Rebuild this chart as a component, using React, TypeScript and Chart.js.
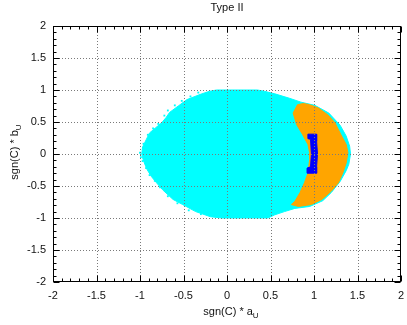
import React, { useEffect, useRef } from "react";
import { Chart, registerables } from "chart.js";

Chart.register(...registerables);

const TITLE = "Type II";
const X_LABEL = "sgn(C) * a";
const Y_LABEL = "sgn(C) * b";
const LABEL_SUB = "U";

const X_TICKS = [-2, -1.5, -1, -0.5, 0, 0.5, 1, 1.5, 2];
const Y_TICKS = [-2, -1.5, -1, -0.5, 0, 0.5, 1, 1.5, 2];

// cyan region outline
const CYAN_X = [
  -0.98, -0.97, -0.93, -0.89, -0.82, -0.75, -0.7, -0.66, -0.56, -0.46, -0.31, -0.2, -0.12,
  0.35, 0.43, 0.55, 0.72, 0.85, 1.01, 1.17, 1.3, 1.37, 1.41, 1.42, 1.4, 1.37, 1.3, 1.2, 1.1, 0.95, 0.78,
  0.66, 0.55, 0.47, -0.06, -0.19, -0.36, -0.51, -0.62, -0.74, -0.81, -0.87, -0.92, -0.95, -0.97,
];
const CYAN_Y = [
  0.0, 0.11, 0.22, 0.33, 0.41, 0.49, 0.57, 0.65, 0.75, 0.85, 0.93, 0.98, 1.0,
  1.0, 0.98, 0.94, 0.87, 0.81, 0.76, 0.64, 0.45, 0.28, 0.12, 0.0, -0.16, -0.26, -0.43, -0.6, -0.73, -0.82, -0.85,
  -0.9, -0.95, -1.0, -1.0, -0.98, -0.9, -0.79, -0.71, -0.56, -0.45, -0.35, -0.24, -0.14, -0.06,
];

// scattered cyan specks at the ragged left edge
const SPECK_X = [-1.0, -0.99, -0.96, -0.91, -0.85, -0.79, -0.72, -0.68, -0.6, -0.52, -0.42, -0.33,
  -0.97, -0.93, -0.89, -0.83, -0.77, -0.68, -0.57, -0.44, -0.3];
const SPECK_Y = [0.02, -0.05, 0.16, 0.3, 0.4, 0.47, 0.6, 0.68, 0.76, 0.83, 0.9, 0.96,
  -0.11, -0.22, -0.33, -0.42, -0.52, -0.66, -0.77, -0.88, -0.94];

// orange region outline
const ORANGE_X = [
  0.76, 0.81, 0.88, 0.95, 1.05, 1.16, 1.24, 1.31, 1.37, 1.39, 1.37, 1.33, 1.28, 1.2, 1.09, 0.97, 0.82,
  0.74, 0.78, 0.84, 0.89, 0.93, 0.95, 0.95, 0.93, 0.87, 0.8,
];
const ORANGE_Y = [
  0.64, 0.77, 0.79, 0.77, 0.72, 0.61, 0.49, 0.3, 0.15, 0.02, -0.14, -0.3, -0.45, -0.58, -0.71, -0.79, -0.82,
  -0.79, -0.74, -0.6, -0.45, -0.3, -0.09, 0.02, 0.15, 0.3, 0.46,
];

// blue region outline
const BLUE_X = [0.93, 1.03, 1.03, 1.04, 1.03, 1.03, 0.92, 0.92, 0.96, 0.97, 0.96, 0.93];
const BLUE_Y = [0.31, 0.31, 0.2, 0.0, -0.2, -0.3, -0.3, -0.22, -0.2, 0.0, 0.23, 0.24];

const CYAN = "#00ffff";
const ORANGE = "#ffa500";
const BLUE = "#0000ff";
const FONT = '"Liberation Sans", Arial, sans-serif';

const pts = (xs: number[], ys: number[], close: boolean) => {
  const p = xs.map((x, i) => ({ x, y: ys[i] }));
  if (close) p.push({ x: xs[0], y: ys[0] });
  return p;
};

const framePlugin = {
  id: "gnuFrame",
  afterDatasetsDraw(chart: any) {
    const { ctx, chartArea: a, scales } = chart;
    const xs = scales.x;
    const ys = scales.y;
    ctx.save();
    // dotted grid
    ctx.strokeStyle = "#7a7a7a";
    ctx.lineWidth = 1;
    ctx.setLineDash([1, 2]);
    X_TICKS.forEach((v, i) => {
      if (i === 0 || i === X_TICKS.length - 1) return;
      const px = Math.round(xs.getPixelForValue(v)) + 0.5;
      ctx.beginPath();
      ctx.moveTo(px, a.top);
      ctx.lineTo(px, a.bottom);
      ctx.stroke();
    });
    Y_TICKS.forEach((v, i) => {
      if (i === 0 || i === Y_TICKS.length - 1) return;
      const py = Math.round(ys.getPixelForValue(v)) + 0.5;
      ctx.beginPath();
      ctx.moveTo(a.left, py);
      ctx.lineTo(a.right, py);
      ctx.stroke();
    });
    ctx.setLineDash([]);
    // border
    ctx.strokeStyle = "#000";
    const L = Math.round(a.left) + 0.5;
    const R = Math.round(a.right) - 0.5;
    const T = Math.round(a.top) + 0.5;
    const B = Math.round(a.bottom) - 0.5;
    ctx.strokeRect(L, T, R - L, B - T);
    // ticks (major + minor) on all sides
    const drawTicksX = (vals: number[], len: number) => {
      vals.forEach((v) => {
        const px = Math.round(xs.getPixelForValue(v)) + 0.5;
        ctx.beginPath();
        ctx.moveTo(px, B);
        ctx.lineTo(px, B - len);
        ctx.moveTo(px, T);
        ctx.lineTo(px, T + len);
        ctx.stroke();
      });
    };
    const drawTicksY = (vals: number[], len: number) => {
      vals.forEach((v) => {
        const py = Math.round(ys.getPixelForValue(v)) + 0.5;
        ctx.beginPath();
        ctx.moveTo(L, py);
        ctx.lineTo(L + len, py);
        ctx.moveTo(R, py);
        ctx.lineTo(R - len, py);
        ctx.stroke();
      });
    };
    const minors = (ticks: number[]) => {
      const out: number[] = [];
      for (let i = 0; i < ticks.length - 1; i++) {
        const step = (ticks[i + 1] - ticks[i]) / 5;
        for (let k = 1; k < 5; k++) out.push(ticks[i] + step * k);
      }
      return out;
    };
    drawTicksX(X_TICKS, 6);
    drawTicksX(minors(X_TICKS), 3);
    drawTicksY(Y_TICKS, 6);
    drawTicksY(minors(Y_TICKS), 3);
    ctx.restore();
  },
  afterDraw(chart: any) {
    const { ctx, chartArea: a } = chart;
    ctx.save();
    ctx.fillStyle = "#111";
    // title
    ctx.font = `11px ${FONT}`;
    ctx.textAlign = "center";
    ctx.textBaseline = "middle";
    ctx.fillText(TITLE, (a.left + a.right) / 2, 8);
    // axis titles with subscripts
    const drawSub = (main: string, sub: string, cx: number, cy: number) => {
      ctx.font = `11px ${FONT}`;
      const mw = ctx.measureText(main).width;
      ctx.font = `8px ${FONT}`;
      const sw = ctx.measureText(sub).width;
      const x0 = cx - (mw + sw) / 2;
      ctx.textAlign = "left";
      ctx.textBaseline = "alphabetic";
      ctx.font = `11px ${FONT}`;
      ctx.fillText(main, x0, cy + 4);
      ctx.font = `8px ${FONT}`;
      ctx.fillText(sub, x0 + mw, cy + 7);
    };
    drawSub(X_LABEL, LABEL_SUB, (a.left + a.right) / 2 + 4, 311);
    ctx.translate(14, (a.top + a.bottom) / 2 - 2);
    ctx.rotate(-Math.PI / 2);
    drawSub(Y_LABEL, LABEL_SUB, 0, 0);
    ctx.restore();
  },
};

export default function App() {
  const ref = useRef<HTMLCanvasElement | null>(null);
  useEffect(() => {
    if (!ref.current) return;
    const tickFont = { family: FONT, size: 11 };
    const chart = new Chart(ref.current, {
      type: "line",
      data: {
        datasets: [
          {
            data: pts(BLUE_X, BLUE_Y, true),
            borderColor: BLUE,
            backgroundColor: BLUE,
            borderWidth: 1,
            pointRadius: 0,
            fill: "shape",
            tension: 0,
            order: 0,
          } as any,
          {
            data: pts(ORANGE_X, ORANGE_Y, true),
            borderColor: ORANGE,
            backgroundColor: ORANGE,
            borderWidth: 1,
            pointRadius: 0,
            fill: "shape",
            tension: 0,
            order: 1,
          },
          {
            data: pts(CYAN_X, CYAN_Y, true),
            borderColor: CYAN,
            backgroundColor: CYAN,
            borderWidth: 1,
            pointRadius: 0,
            fill: "shape",
            tension: 0,
            order: 2,
          },
          {
            data: pts(SPECK_X, SPECK_Y, false),
            showLine: false,
            borderColor: CYAN,
            backgroundColor: CYAN,
            pointStyle: "rect",
            pointRadius: 1.3,
            borderWidth: 0,
            order: 3,
          },
        ],
      },
      options: {
        animation: false,
        responsive: false,
        events: [],
        layout: { padding: { top: 26, right: 6, left: 0, bottom: 0 } },
        plugins: { legend: { display: false }, tooltip: { enabled: false }, title: { display: false } },
        scales: {
          x: {
            type: "linear",
            min: -2,
            max: 2,
            afterBuildTicks: (s: any) => {
              s.ticks = X_TICKS.map((v) => ({ value: v }));
            },
            afterFit: (s: any) => {
              s.height = 43;
            },
            ticks: { font: tickFont, color: "#111", padding: 0, maxRotation: 0, autoSkip: false, callback: (v: any) => String(v) },
            grid: { display: false, drawTicks: true, tickLength: 7 },
            border: { display: false },
          },
          y: {
            type: "linear",
            min: -2,
            max: 2,
            afterBuildTicks: (s: any) => {
              s.ticks = Y_TICKS.map((v) => ({ value: v }));
            },
            afterFit: (s: any) => {
              s.width = 53;
            },
            ticks: { font: tickFont, color: "#111", padding: 0, autoSkip: false, callback: (v: any) => String(v) },
            grid: { display: false, drawTicks: true, tickLength: 7 },
            border: { display: false },
          },
        },
      },
      plugins: [framePlugin],
    });
    return () => chart.destroy();
  }, []);
  return (
    <div style={{ position: "fixed", left: 0, top: 0, width: 407, height: 325, background: "#fff" }}>
      <canvas ref={ref} width={407} height={325} />
    </div>
  );
}
